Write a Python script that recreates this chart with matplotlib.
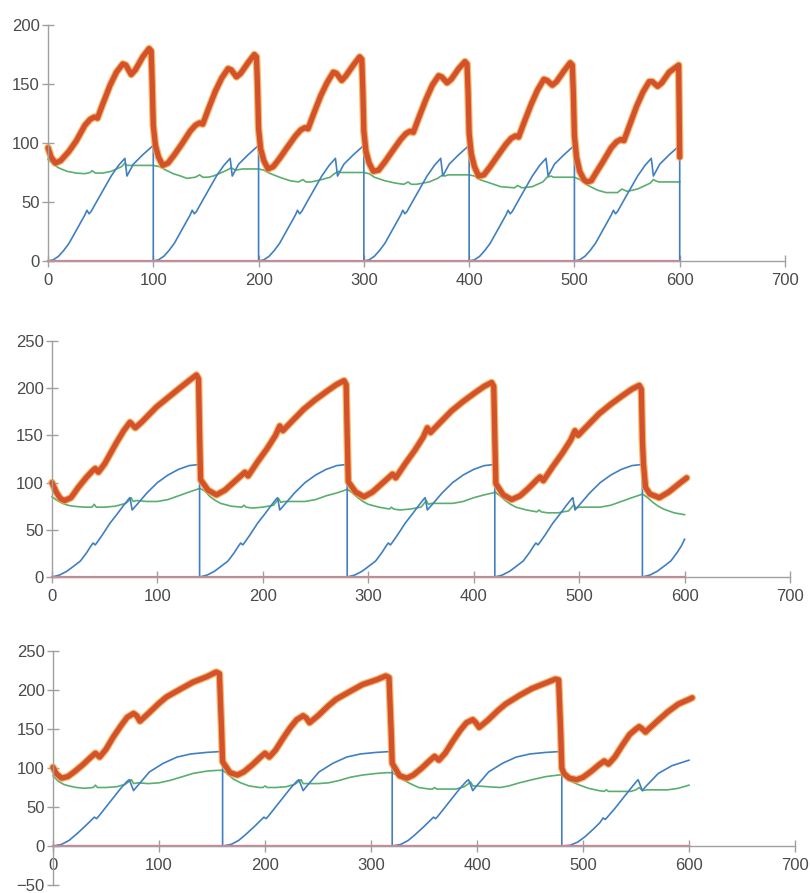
import numpy as np
import matplotlib.pyplot as plt

plt.rcParams['font.family'] = ['Liberation Sans', 'DejaVu Sans']

# ---------------- panel 1: cycle length 100 ----------------
p1_red_x = [0, 3, 7, 12, 20, 27, 35, 40, 44, 47, 52, 59, 65, 71, 74, 79, 83, 90, 96, 98, 99, 100,
            102, 105, 109, 114, 120, 127, 135, 140, 144, 147, 152, 159, 165, 171, 174, 179, 183, 190, 196, 198, 199, 200,
            202, 205, 209, 214, 220, 227, 235, 240, 244, 247, 252, 259, 265, 271, 274, 279, 283, 290, 296, 298, 299, 300,
            302, 305, 309, 314, 320, 327, 335, 340, 344, 347, 352, 359, 365, 371, 374, 379, 383, 390, 396, 398, 399, 400,
            402, 405, 409, 414, 420, 427, 435, 440, 444, 447, 452, 459, 465, 471, 474, 479, 483, 490, 496, 498, 499, 500,
            502, 505, 509, 512, 516, 520, 527, 535, 540, 544, 547, 552, 559, 565, 571, 574, 579, 583, 590, 596, 599, 600]
p1_red_y = [96, 88, 83, 85, 93, 102, 115, 120, 122, 121, 133, 149, 160, 167, 166, 158, 162, 173, 180, 178, 150, 115,
            98, 88, 81, 83, 90, 99, 110, 115, 117, 116, 128, 144, 155, 163, 162, 156, 159, 168, 175, 173, 148, 112,
            95, 85, 78, 80, 87, 96, 106, 111, 113, 112, 124, 140, 151, 160, 159, 153, 157, 166, 173, 171, 146, 110,
            93, 83, 76, 77, 84, 93, 103, 108, 110, 109, 121, 137, 149, 157, 156, 151, 154, 163, 169, 167, 143, 108,
            91, 80, 72, 73, 80, 89, 99, 104, 106, 105, 117, 133, 145, 154, 153, 149, 152, 161, 168, 166, 142, 106,
            88, 76, 69, 67, 68, 74, 84, 96, 101, 103, 102, 114, 131, 143, 152, 152, 148, 151, 160, 164, 166, 88]

p1_blue_x = [0, 5, 10, 15, 20, 25, 30, 35, 37, 39, 41, 46, 53, 60, 67, 72, 73, 75, 81, 90, 100, 100,
             100, 105, 110, 115, 120, 125, 130, 135, 137, 139, 141, 146, 153, 160, 167, 172, 173, 175, 181, 190, 200, 200,
             200, 205, 210, 215, 220, 225, 230, 235, 237, 239, 241, 246, 253, 260, 267, 272, 273, 275, 281, 290, 300, 300,
             300, 305, 310, 315, 320, 325, 330, 335, 337, 339, 341, 346, 353, 360, 367, 372, 373, 375, 381, 390, 400, 400,
             400, 405, 410, 415, 420, 425, 430, 435, 437, 439, 441, 446, 453, 460, 467, 472, 473, 475, 481, 490, 500, 500,
             500, 505, 510, 515, 520, 525, 530, 535, 537, 539, 541, 546, 553, 560, 567, 572, 573, 575, 581, 590, 600, 600]
p1_blue_y = [0, 1, 4, 9, 15, 23, 31, 39, 43, 40, 42, 50, 61, 72, 81, 86, 87, 72, 82, 90, 98, 0,
             0, 1, 4, 9, 15, 23, 31, 39, 43, 40, 42, 50, 61, 72, 81, 86, 87, 72, 82, 90, 98, 0,
             0, 1, 4, 9, 15, 23, 31, 39, 43, 40, 42, 50, 61, 72, 81, 86, 87, 72, 82, 90, 98, 0,
             0, 1, 4, 9, 15, 23, 31, 39, 43, 40, 42, 50, 61, 72, 81, 86, 87, 72, 82, 90, 98, 0,
             0, 1, 4, 9, 15, 23, 31, 39, 43, 40, 42, 50, 61, 72, 81, 86, 87, 72, 82, 90, 98, 0,
             0, 1, 4, 9, 15, 23, 31, 39, 43, 40, 42, 50, 61, 72, 81, 86, 87, 72, 82, 90, 98, 0]

p1_green_x = [0, 5, 10, 18, 27, 35, 40, 42, 45, 52, 60, 65, 70, 73, 75, 78, 85, 100,
              106, 112, 119, 126, 132, 140, 144, 147, 152, 157, 165, 170, 174, 176, 178, 185, 200,
              205, 210, 220, 230, 238, 242, 245, 250, 260, 268, 272, 276, 278, 285, 300,
              305, 310, 320, 330, 338, 342, 345, 350, 362, 370, 375, 377, 380, 390, 400,
              405, 410, 420, 430, 443, 446, 450, 460, 470, 474, 478, 480, 490, 500,
              505, 513, 522, 530, 541, 545, 550, 560, 572, 575, 577, 580, 590, 600]
p1_green_y = [86, 82, 79, 76, 74.5, 74, 75, 76.5, 74.5, 74.5, 76, 78, 80, 83, 81, 81, 81, 81,
              80, 77, 74, 72, 70, 71, 73, 71, 71, 72, 75, 77, 79, 78, 77, 78, 78,
              77, 74.5, 71, 68, 67, 69, 67, 67, 69, 71, 74, 76, 75, 75, 75,
              74, 71, 68, 66, 65, 67, 65, 65, 67, 70, 73, 72, 73, 73, 73,
              72, 69, 66, 63, 62, 64, 62, 63, 67, 71, 72, 71, 71, 71,
              69, 64, 60, 58, 58, 61, 59, 61, 66, 69, 68, 67, 67, 67]

# ---------------- panel 2: cycle length 140 ----------------
p2_red_x = [0, 4, 8, 12, 18, 25, 33, 38, 41, 44, 50, 61, 68, 74, 79, 85, 99, 110, 121, 130, 137, 139, 140,
            141, 148, 156, 164, 172, 180, 183, 186, 195, 204, 212, 216, 219, 225, 239, 250, 261, 270, 277, 279, 280,
            281, 288, 296, 304, 312, 320, 323, 326, 335, 344, 352, 356, 359, 365, 379, 390, 401, 410, 417, 419, 420,
            421, 428, 436, 444, 452, 460, 463, 466, 475, 484, 492, 496, 499, 505, 519, 530, 541, 550, 557, 559, 560,
            561, 563, 567, 576, 585, 595, 602]
p2_red_y = [100, 90, 83, 81, 84, 95, 106, 112, 115, 111, 120, 142, 155, 164, 158, 164, 180, 190, 200, 208, 214, 210, 150,
            103, 92, 87, 92, 100, 108, 111, 107, 122, 136, 150, 160, 155, 162, 178, 188, 197, 204, 208, 204, 150,
            101, 90, 85, 90, 98, 106, 109, 105, 120, 134, 148, 158, 153, 160, 176, 186, 195, 202, 206, 202, 148,
            99, 87, 82, 86, 94, 103, 106, 102, 117, 131, 145, 155, 150, 157, 173, 183, 192, 199, 203, 199, 146,
            120, 95, 88, 84, 90, 99, 105]

p2_blue_x = [0, 7, 14, 20, 27, 33, 37, 39, 41, 43, 48, 55, 62, 68, 73, 74, 76, 80, 90, 100, 110, 120, 130, 138, 140, 140,
             140, 147, 154, 160, 167, 173, 177, 179, 181, 183, 188, 195, 202, 208, 213, 214, 216, 220, 230, 240, 250, 260, 270, 278, 280, 280,
             280, 287, 294, 300, 307, 313, 317, 319, 321, 323, 328, 335, 342, 348, 353, 354, 356, 360, 370, 380, 390, 400, 410, 418, 420, 420,
             420, 427, 434, 440, 447, 453, 457, 459, 461, 463, 468, 475, 482, 488, 493, 494, 496, 500, 510, 520, 530, 540, 550, 558, 560, 560,
             560, 567, 574, 580, 587, 593, 597, 600]
p2_blue_y = [0, 2, 6, 11, 17, 26, 33, 36, 34, 37, 45, 57, 67, 76, 83, 84, 71, 76, 89, 100, 108, 114, 118, 119, 119, 0,
             0, 2, 6, 11, 17, 26, 33, 36, 34, 37, 45, 57, 67, 76, 83, 84, 71, 76, 89, 100, 108, 114, 118, 119, 119, 0,
             0, 2, 6, 11, 17, 26, 33, 36, 34, 37, 45, 57, 67, 76, 83, 84, 71, 76, 89, 100, 108, 114, 118, 119, 119, 0,
             0, 2, 6, 11, 17, 26, 33, 36, 34, 37, 45, 57, 67, 76, 83, 84, 71, 76, 89, 100, 108, 114, 118, 119, 119, 0,
             0, 2, 6, 11, 17, 26, 33, 40]

p2_green_x = [0, 5, 10, 15, 20, 30, 38, 40, 42, 50, 60, 70, 73, 75, 77, 80, 90, 100, 110, 120, 130, 138, 140,
              145, 150, 155, 160, 170, 180, 182, 184, 190, 200, 210, 213, 215, 217, 220, 230, 240, 250, 260, 270, 278, 280,
              285, 290, 295, 300, 310, 320, 322, 324, 330, 340, 350, 353, 355, 357, 360, 370, 380, 390, 400, 410, 418, 420,
              425, 430, 435, 440, 450, 460, 462, 464, 470, 480, 490, 493, 495, 497, 500, 510, 520, 530, 540, 550, 558, 560,
              565, 570, 575, 580, 590, 600]
p2_green_y = [85, 81, 78, 76, 75, 74, 74, 77, 74, 74, 75, 78, 81, 84, 80, 81, 80, 80, 82, 86, 90, 93, 94,
              91, 85, 81, 78, 75, 74, 76, 74, 73, 74, 76, 80, 83, 79, 80, 80, 80, 82, 86, 89, 92, 93,
              89, 84, 80, 77, 74, 72, 74, 72, 71, 72, 74, 78, 81, 77, 78, 78, 78, 80, 84, 87, 89, 90,
              86, 81, 77, 74, 71, 69, 71, 69, 68, 68, 70, 74, 77, 73, 74, 74, 74, 76, 80, 84, 87, 88,
              84, 79, 75, 72, 68, 66]

# ---------------- panel 3: cycle length 160 ----------------
p3_red_x = [0, 3, 8, 14, 20, 28, 35, 40, 44, 50, 57, 64, 70, 76, 79, 82, 90, 100, 107, 120, 132, 145, 154, 157, 159, 160,
            167, 174, 180, 188, 195, 200, 204, 210, 217, 224, 230, 236, 239, 242, 250, 260, 267, 280, 292, 305, 314, 317, 319, 320,
            327, 334, 340, 348, 355, 360, 364, 370, 377, 384, 390, 396, 399, 402, 410, 420, 427, 440, 452, 465, 474, 477, 479, 480,
            482, 487, 494, 500, 508, 515, 520, 524, 530, 537, 544, 550, 553, 556, 559, 562, 570, 580, 590, 600, 603]
p3_red_y = [101, 93, 87, 89, 95, 104, 113, 119, 114, 124, 140, 154, 165, 170, 167, 160, 170, 183, 191, 201, 210, 217, 223, 221, 150, 108,
            94, 91, 95, 104, 113, 119, 114, 123, 138, 152, 162, 167, 164, 158, 167, 180, 188, 198, 207, 213, 218, 216, 148, 106,
            90, 87, 91, 100, 109, 115, 110, 119, 134, 148, 158, 162, 158, 152, 161, 174, 182, 193, 202, 209, 214, 213, 145, 100,
            93, 87, 85, 88, 96, 104, 109, 105, 114, 129, 143, 150, 153, 150, 146, 150, 160, 172, 182, 188, 190]

p3_blue_x = [0, 8, 15, 22, 30, 36, 39, 41, 43, 50, 57, 64, 70, 72, 74, 76, 79, 91, 104, 117, 130, 145, 157, 160, 160,
             160, 168, 175, 182, 190, 196, 199, 201, 203, 210, 217, 224, 230, 232, 234, 236, 239, 251, 264, 277, 290, 305, 317, 320, 320,
             320, 328, 335, 342, 350, 356, 359, 361, 363, 370, 377, 384, 390, 392, 394, 396, 399, 411, 424, 437, 450, 465, 477, 480, 480,
             480, 488, 495, 502, 510, 516, 519, 521, 523, 530, 537, 544, 550, 552, 554, 556, 559, 571, 584, 600]
p3_blue_y = [0, 2, 7, 15, 25, 33, 37, 35, 38, 50, 62, 74, 83, 85, 78, 71, 76, 95, 106, 114, 118, 120, 121, 121, 0,
             0, 2, 7, 15, 25, 33, 37, 35, 38, 50, 62, 74, 83, 85, 78, 71, 76, 95, 106, 114, 118, 120, 121, 121, 0,
             0, 2, 7, 15, 25, 33, 37, 35, 38, 50, 62, 74, 83, 85, 78, 71, 76, 95, 106, 114, 118, 120, 121, 121, 0,
             0, 1, 5, 12, 22, 30, 36, 34, 37, 48, 60, 72, 82, 85, 78, 71, 76, 93, 103, 110]

p3_green_x = [0, 5, 10, 15, 22, 30, 38, 40, 42, 50, 60, 68, 72, 74, 76, 80, 90, 100, 110, 120, 132, 145, 155, 160,
              165, 170, 177, 185, 195, 198, 200, 202, 210, 220, 228, 232, 234, 236, 240, 250, 260, 270, 280, 292, 305, 315, 320,
              325, 330, 337, 345, 355, 358, 360, 362, 370, 380, 388, 392, 394, 396, 400, 410, 422, 430, 440, 452, 465, 477, 480,
              485, 490, 497, 505, 515, 520, 522, 524, 535, 545, 550, 553, 556, 560, 570, 580, 590, 600]
p3_green_y = [90, 83, 79, 77, 75, 74, 75, 78, 75, 75, 76, 79, 83, 85, 80, 81, 80, 81, 84, 88, 93, 96, 97, 97,
              92, 86, 81, 77, 75, 75, 77, 75, 75, 76, 79, 83, 85, 80, 80, 80, 81, 84, 88, 91, 93, 94, 94,
              90, 85, 80, 75, 73, 73, 75, 73, 73, 73, 76, 80, 82, 77, 77, 76, 75, 77, 81, 85, 89, 91, 91,
              86, 82, 78, 74, 71, 70, 72, 70, 70, 70, 72, 75, 71, 72, 72, 72, 74, 78]

zero_x = [0, 600]
zero_y = [0, 0]

x_ticks = [0, 100, 200, 300, 400, 500, 600, 700]

panels = [
    ([48 / 810, 632 / 893, 737 / 810, 236 / 893], (0, 200), [0, 50, 100, 150, 200],
     p1_red_x, p1_red_y, p1_blue_x, p1_blue_y, p1_green_x, p1_green_y),
    ([52 / 810, 316 / 893, 738 / 810, 236 / 893], (0, 250), [0, 50, 100, 150, 200, 250],
     p2_red_x, p2_red_y, p2_blue_x, p2_blue_y, p2_green_x, p2_green_y),
    ([53 / 810, 8 / 893, 742 / 810, 234 / 893], (-50, 250), [-50, 0, 50, 100, 150, 200, 250],
     p3_red_x, p3_red_y, p3_blue_x, p3_blue_y, p3_green_x, p3_green_y),
]

fig = plt.figure(figsize=(8.1, 8.93), dpi=100)

axis_col = '#a0a0a0'
text_col = '#4a4a4a'

for rect, ylim, yticks, rx, ry, bx, by, gx, gy in panels:
    ax = fig.add_axes(rect)
    ax.set_xlim(0, 700)
    ax.set_ylim(*ylim)
    ax.set_xticks(x_ticks)
    ax.set_yticks(yticks)
    ax.patch.set_visible(False)
    for s in ['top', 'right']:
        ax.spines[s].set_visible(False)
    ax.spines['left'].set_position(('data', 0))
    ax.spines['bottom'].set_position(('data', 0))
    for s in ['left', 'bottom']:
        ax.spines[s].set_color(axis_col)
        ax.spines[s].set_linewidth(1.0)
    ax.tick_params(axis='x', direction='inout', length=9, width=1, color=axis_col,
                   labelsize=12, labelcolor=text_col, pad=4)
    ax.tick_params(axis='y', direction='inout', length=8, width=1, color=axis_col,
                   labelsize=12, labelcolor=text_col, pad=2)

    ax.plot(gx, gy, color='#5aae6e', lw=1.2, clip_on=False)
    ax.plot(bx, by, color='#3f7fc2', lw=1.2, clip_on=False)
    ax.plot(zero_x, zero_y, color='#e8788c', lw=1.6, clip_on=False)
    ax.plot(rx, ry, color='#f3a847', lw=5.5, alpha=0.8, solid_joinstyle='round',
            solid_capstyle='round', clip_on=False)
    ax.plot(rx, ry, color='#d4522b', lw=3.8, solid_joinstyle='round',
            solid_capstyle='round', clip_on=False)

plt.savefig('out.png', dpi=100)
